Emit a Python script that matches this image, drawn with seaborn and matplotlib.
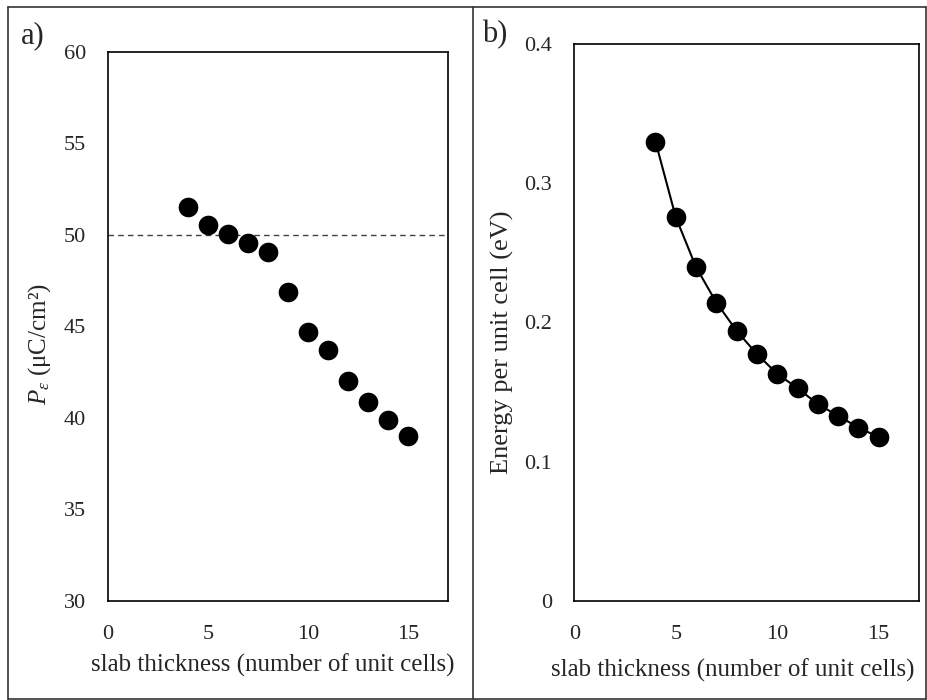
import matplotlib
matplotlib.use("Agg")
import matplotlib.pyplot as plt
from matplotlib.lines import Line2D
import seaborn as sns
import pandas as pd

# data
thickness = [4, 5, 6, 7, 8, 9, 10, 11, 12, 13, 14, 15]
polarization = [51.52, 50.53, 50.04, 49.53, 49.04, 46.86, 44.67, 43.73, 42.01, 40.89, 39.89, 39.02]
energy = [0.3298, 0.2755, 0.2396, 0.2142, 0.1939, 0.1772, 0.1630, 0.1528, 0.1413, 0.1329, 0.1245, 0.1176]
bulk_polarization = 50.0
x_ticks = [0, 5, 10, 15]
ya_ticks = [30, 35, 40, 45, 50, 55, 60]
yb_ticks = [0, 0.1, 0.2, 0.3, 0.4]
yb_ticklabels = ["0", "0.1", "0.2", "0.3", "0.4"]
xlabel = "slab thickness (number of unit cells)"
ylabel_a = r"$P_\varepsilon$ (μC/cm²)"
ylabel_b = "Energy per unit cell (eV)"

sns.set_style("white")
plt.rcParams['font.family'] = ['Liberation Serif', 'DejaVu Serif']
plt.rcParams['mathtext.fontset'] = 'custom'
plt.rcParams['mathtext.rm'] = 'Liberation Serif'
plt.rcParams['mathtext.it'] = 'Liberation Serif:italic'

df = pd.DataFrame({"t": thickness, "p": polarization, "e": energy})

fig = plt.figure(figsize=(9.27, 7.0), dpi=100)
W, H = 927, 700
ax_a = fig.add_axes([108 / W, 1 - 601 / H, (447.7 - 108) / W, (601 - 51.7) / H])
ax_b = fig.add_axes([574.3 / W, 1 - 601 / H, (919.3 - 574.3) / W, (601 - 43.7) / H])

tick_fs = 16
lab_fs = 18

# panel a
ax_a.axhline(bulk_polarization, color="#404040", lw=1.0, ls=(0, (4, 3)), zorder=1)
sns.scatterplot(data=df, x="t", y="p", ax=ax_a, s=200, color="black",
                edgecolor="black", linewidth=0, zorder=3)
ax_a.set_xlim(0, 17)
ax_a.set_ylim(30, 60)
ax_a.set_xticks(x_ticks)
ax_a.set_yticks(ya_ticks)
ax_a.set_xlabel(xlabel, fontsize=lab_fs, va="center")
ax_a.set_ylabel(ylabel_a, fontsize=lab_fs, va="center")
ax_a.xaxis.set_label_coords(0.486, -0.1165)
ax_a.yaxis.set_label_coords(-0.202, 0.468)

# panel b
sns.lineplot(data=df, x="t", y="e", ax=ax_b, color="black", lw=1.5, zorder=2)
sns.scatterplot(data=df, x="t", y="e", ax=ax_b, s=200, color="black",
                edgecolor="black", linewidth=0, zorder=3)
ax_b.set_xlim(0, 17)
ax_b.set_ylim(0, 0.4)
ax_b.set_xticks(x_ticks)
ax_b.set_yticks(yb_ticks)
ax_b.set_yticklabels(yb_ticklabels)
ax_b.set_xlabel(xlabel, fontsize=lab_fs, va="center")
ax_b.set_ylabel(ylabel_b, fontsize=19, va="center")
ax_b.xaxis.set_label_coords(0.46, -0.124)
ax_b.yaxis.set_label_coords(-0.207, 0.465)

for ax in (ax_a, ax_b):
    ax.tick_params(axis="both", length=0, labelsize=tick_fs)
    ax.tick_params(axis="y", pad=16)
    ax.tick_params(axis="x", pad=17)
    for sp in ax.spines.values():
        sp.set_visible(True)
        sp.set_color("black")
        sp.set_linewidth(1.2)
    ax.grid(False)

# panel letters
fig.text(21 / W, 1 - 36 / H, "a)", fontsize=22, ha="left", va="center")
fig.text(482 / W, 1 - 35 / H, "b)", fontsize=22, ha="left", va="center")

# outer frame and divider
kw = dict(color="#333333", lw=1.2, transform=fig.transFigure)
fig.add_artist(Line2D([8 / W, 926 / W], [1 - 7 / H, 1 - 7 / H], **kw))
fig.add_artist(Line2D([8 / W, 8 / W], [1 - 7 / H, 1 - 699 / H], **kw))
fig.add_artist(Line2D([473 / W, 473 / W], [1 - 7 / H, 1 - 699 / H], **kw))
fig.add_artist(Line2D([926 / W, 926 / W], [1 - 7 / H, 1 - 699 / H], **kw))
fig.add_artist(Line2D([8 / W, 926 / W], [1 - 699 / H, 1 - 699 / H], **kw))

fig.savefig("out.png", dpi=100)
